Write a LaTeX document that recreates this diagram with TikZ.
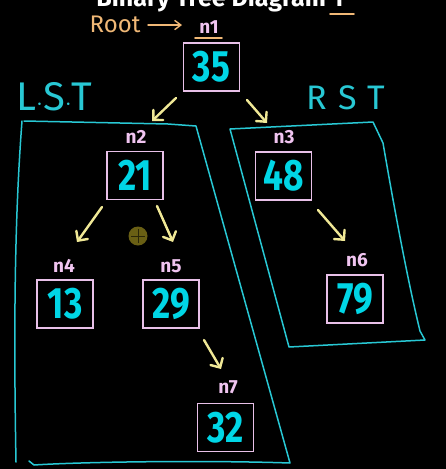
\documentclass[tikz,border=0pt]{standalone}
\usepackage{fontspec}
\setmainfont{Fira Sans}
\newfontfamily\numfont[FakeStretch=0.8]{Fira Sans}
\usetikzlibrary{arrows.meta}
\definecolor{numcyan}{RGB}{0,214,230}
\definecolor{boxpink}{RGB}{232,192,232}
\definecolor{lblpink}{RGB}{240,196,240}
\definecolor{linecyan}{RGB}{40,200,212}
\definecolor{arryellow}{RGB}{240,232,150}
\definecolor{rootorange}{RGB}{240,184,118}
\definecolor{cursorolive}{RGB}{105,95,20}
\tikzset{
  valbox/.style={draw=boxpink, line width=1.8pt, minimum width=56pt, minimum height=48pt,
    inner sep=0pt, text=numcyan, font=\numfont\bfseries\fontsize{44}{44}\selectfont},
  nlabel/.style={text=lblpink, inner sep=0pt, font=\bfseries\fontsize{19}{19}\selectfont},
  treearrow/.style={draw=arryellow, line width=2.4pt, line cap=round,
    -{Straight Barb[length=7pt,width=14pt,line cap=round]}},
  subtree/.style={draw=linecyan, line width=1.5pt, line join=round, line cap=round},
  handcyan/.style={text=linecyan, inner sep=0pt, font=\fontsize{40}{40}\selectfont},
}
\begin{document}
\begin{tikzpicture}[x=1pt,y=-1pt]
\fill[black] (0,0) rectangle (446,469);
\useasboundingbox (0,0) rectangle (446,469);
\clip (0,0) rectangle (446,469);

% title (cut off at the top, as in the reference)
\node[anchor=base, text=white, inner sep=0pt, font=\bfseries\fontsize{25}{25}\selectfont]
  (title) at (220,6) {Binary Tree Diagram 1};
\draw[rootorange, line width=1.6pt, line cap=round] (330,14) -- (354,14);

% root annotation
\node[text=rootorange, inner sep=0pt, font=\fontsize{24}{24}\selectfont] (root) at (115,24) {Root};
\coordinate (ra) at (148,25);
\coordinate (rb) at (182,25);
\draw[rootorange, line width=1.4pt, line cap=round, -{Straight Barb[length=6pt,width=9pt,line cap=round]}] (ra) -- (rb);

% subtree labels
\node[handcyan, anchor=west] (lst) at (16,97) {L$\cdot$S$\cdot$T};
\node[handcyan, anchor=west, font=\fontsize{34}{34}\selectfont] (rst) at (306,98) {R\,\,S\,\,T};

% subtree outlines
\draw[subtree] (24,121) -- (168,124) -- (196,126) -- (290,463)
  .. controls (200,460) and (80,462) .. (34,465) -- (29,461);
\draw[subtree] (22,121) .. controls (16,200) and (13,300) .. (16,462);
\draw[subtree] (230,129) -- (373,122) -- (383,143) .. controls (398,230) and (410,290) .. (420,331) -- (425,340) -- (289,347) -- cycle;

% nodes
\node[valbox] (n1) at (211.5,67) {35};
\node[valbox] (n2) at (135,175.5) {21};
\node[valbox] (n3) at (283.5,176) {48};
\node[valbox] (n4) at (65,304) {13};
\node[valbox] (n5) at (171,304) {29};
\node[valbox] (n6) at (355,299) {79};
\node[valbox] (n7) at (225.5,427.5) {32};

% labels
\node[nlabel] (l1) at (209,27) {n1};
\draw[rootorange, line width=1.6pt, line cap=round] (195,38) -- (222,38);
\node[nlabel] (l2) at (136,137) {n2};
\node[nlabel] (l3) at (284,137) {n3};
\node[nlabel] (l4) at (64,266) {n4};
\node[nlabel] (l5) at (171,266) {n5};
\node[nlabel] (l6) at (357,260) {n6};
\node[nlabel] (l7) at (228,387) {n7};

% arrows
\coordinate (a1s) at (176,98);  \coordinate (a1e) at (152,121);
\coordinate (a2s) at (247,100); \coordinate (a2e) at (267,123);
\coordinate (a3s) at (102,207); \coordinate (a3e) at (77,242);
\coordinate (a4s) at (157,206); \coordinate (a4e) at (173,242);
\coordinate (a5s) at (318,210); \coordinate (a5e) at (345,241);
\coordinate (a6s) at (204,340); \coordinate (a6e) at (221,369);
\draw[treearrow] (a1s) -- (a1e);
\draw[treearrow] (a2s) -- (a2e);
\draw[treearrow] (a3s) -- (a3e);
\draw[treearrow] (a4s) -- (a4e);
\draw[treearrow] (a5s) -- (a5e);
\draw[treearrow] (a6s) -- (a6e);

% cursor
\fill[cursorolive] (138,236) circle (9.5);
\draw[black!60!cursorolive, line width=0.8pt] (138,229) -- (138,243) (131,236) -- (145,236);
\end{tikzpicture}
\end{document}
